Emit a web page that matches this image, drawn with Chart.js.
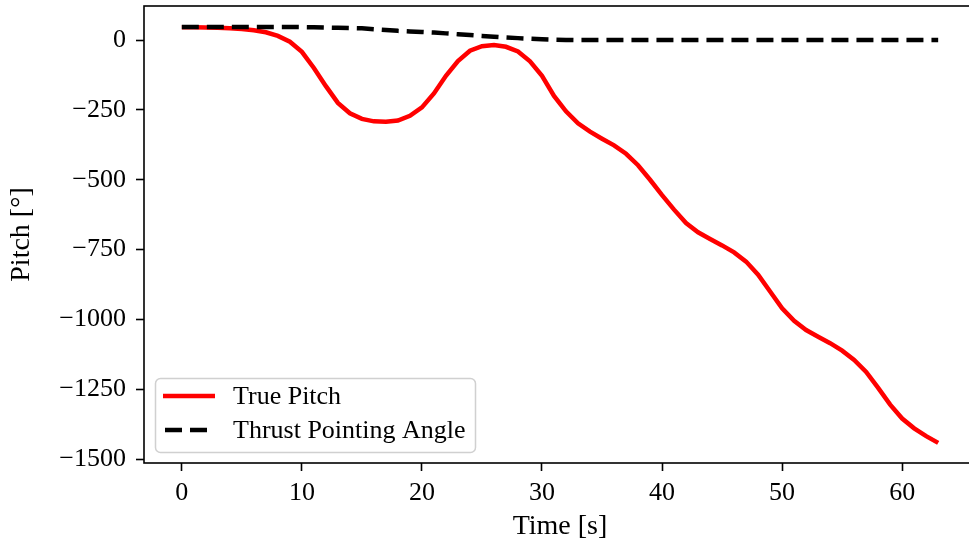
<!DOCTYPE html>
<html>
<head>
<meta charset="utf-8">
<script src="https://cdn.jsdelivr.net/npm/chart.js@4.4.1/dist/chart.umd.min.js"></script>
<style>
html,body{margin:0;padding:0;background:#fff;overflow:hidden;width:969px;height:548px}
#wrap{position:relative;width:980px;height:548px}
canvas{display:block}
</style>
</head>
<body>
<div id="wrap"><canvas id="c" width="980" height="548" style="width:980px;height:548px"></canvas></div>
<script>
// ---- data ----
const timeS = [0,1,2,3,4,5,6,7,8,9,10,11,12,13,14,15,16,17,18,19,20,21,22,23,24,25,26,27,28,29,30,31,32,33,34,35,36,37,38,39,40,41,42,43,44,45,46,47,48,49,50,51,52,53,54,55,56,57,58,59,60,61,62,63];
const truePitch = [46,46,45,44,42,40,35,28,15,-6,-42,-100,-165,-225,-262,-282,-291,-292,-288,-271,-241,-191,-128,-75,-38,-22,-18,-24,-41,-76,-128,-200,-255,-298,-328,-353,-377,-407,-448,-500,-555,-607,-655,-688,-712,-735,-760,-793,-840,-900,-960,-1005,-1038,-1062,-1085,-1112,-1145,-1188,-1245,-1305,-1355,-1390,-1418,-1442];
const thrustAngle = [47,47,47,47,47,47,47,47,47,47,46.5,46,45,44,43,42,39,36,33,31,29,27,24,21,18,15,12,9,7,5,3,1.5,0.5,0,0,0,0,0,0,0,0,0,0,0,0,0,0,0,0,0,0,0,0,0,0,0,0,0,0,0,0,0,0,0];
const seriesNames = ['True Pitch', 'Thrust Pointing Angle'];
const xTicks = [0,10,20,30,40,50,60];
const yTicks = [0,-250,-500,-750,-1000,-1250,-1500];
const xTitle = 'Time [s]';
const yTitle = 'Pitch [°]';

const FAMILY = '"Liberation Serif", "DejaVu Serif", serif';
const FONT = {family: FAMILY, size: 26};
const TITLE_FONT = {family: FAMILY, size: 28};
const fmt = v => (v < 0 ? '\u2212' + Math.abs(v) : String(v));

const framePlugin = {
  id: 'frame',
  afterDatasetsDraw(chart) {
    const a = chart.chartArea, ctx = chart.ctx;
    ctx.save();
    ctx.strokeStyle = '#000';
    ctx.lineWidth = 1.6;
    ctx.strokeRect(a.left, a.top, a.right - a.left, a.bottom - a.top);
    ctx.restore();
  }
};

const legendPlugin = {
  id: 'legendBox',
  afterDraw(chart) {
    const ctx = chart.ctx, a = chart.chartArea;
    const w = 320, h = 74;
    const x = a.left + 11, y = a.bottom - 11 - h;
    ctx.save();
    ctx.beginPath();
    ctx.roundRect(x + 0.5, y + 0.5, w, h, 5);
    ctx.fillStyle = 'rgba(255,255,255,0.8)';
    ctx.fill();
    ctx.strokeStyle = '#d0d0d0';
    ctx.lineWidth = 1.5;
    ctx.stroke();
    chart.data.datasets.forEach((ds, i) => {
      const cy = y + 18 + i * 34;
      ctx.beginPath();
      ctx.setLineDash(ds.borderDash || []);
      ctx.lineWidth = ds.borderWidth;
      ctx.strokeStyle = ds.borderColor;
      ctx.moveTo(x + 8 + (ds.borderDash ? 2 : 0), cy);
      ctx.lineTo(x + 60, cy);
      ctx.stroke();
      ctx.setLineDash([]);
      ctx.fillStyle = '#000';
      ctx.font = FONT.size + 'px ' + FONT.family;
      ctx.textBaseline = 'middle';
      ctx.textAlign = 'left';
      ctx.fillText(ds.label, x + 78, cy + 1);
    });
    ctx.restore();
  }
};

const axisCommon = {
  grid: {drawOnChartArea: false, drawTicks: true, tickLength: 8, tickWidth: 1.6, tickColor: '#000'},
  border: {display: false},
};

new Chart(document.getElementById('c'), {
  type: 'line',
  data: {
    datasets: [
      {
        label: seriesNames[0],
        data: timeS.map((t, i) => ({x: t, y: truePitch[i]})),
        borderColor: '#ff0000',
        borderWidth: 4.5,
        pointRadius: 0,
        tension: 0,
        fill: false,
        order: 1
      },
      {
        label: seriesNames[1],
        data: timeS.map((t, i) => ({x: t, y: thrustAngle[i]})),
        borderColor: '#000000',
        borderWidth: 4.5,
        borderDash: [17, 8],
        pointRadius: 0,
        tension: 0,
        fill: false,
        order: 0
      }
    ]
  },
  options: {
    responsive: false,
    devicePixelRatio: 1,
    animation: false,
    layout: {padding: {top: 6, right: 4, left: 0, bottom: 0}},
    plugins: {legend: {display: false}, tooltip: {enabled: false}},
    scales: {
      x: {
        ...axisCommon,
        type: 'linear',
        position: 'bottom',
        min: -3.15,
        max: 66.15,
        afterBuildTicks: s => { s.ticks = xTicks.map(v => ({value: v})); },
        afterFit: s => { s.height = 85; s.paddingLeft = 0; s.paddingRight = 0; },
        ticks: {color: '#000', font: FONT, padding: 7, maxRotation: 0, autoSkip: false, callback: fmt},
        title: {display: true, text: xTitle, color: '#000', font: TITLE_FONT, padding: {top: 0, bottom: 5}}
      },
      y: {
        ...axisCommon,
        type: 'linear',
        position: 'left',
        min: -1514,
        max: 122,
        afterBuildTicks: s => { s.ticks = yTicks.map(v => ({value: v})); },
        afterFit: s => { s.width = 144; s.paddingTop = 0; s.paddingBottom = 0; },
        ticks: {color: '#000', font: FONT, padding: 10, autoSkip: false, callback: fmt},
        title: {display: true, text: yTitle, color: '#000', font: TITLE_FONT, padding: {top: 5, bottom: 0}}
      }
    }
  },
  plugins: [framePlugin, legendPlugin]
});
</script>
</body>
</html>
